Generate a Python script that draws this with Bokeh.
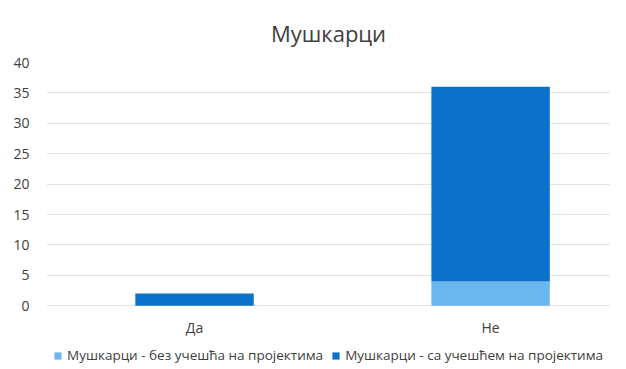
from bokeh.plotting import figure
from bokeh.models import ColumnDataSource, Range1d, FixedTicker, Legend, LegendItem
from bokeh.embed import file_html
from bokeh.resources import INLINE

categories = ["Да", "Не"]
series_names = ["Мушкарци - без учешћа на пројектима", "Мушкарци - са учешћем на пројектима"]
without_projects = [0, 4]
with_projects = [2, 32]
colors = ["#6AB7EF", "#0A72CA"]
y_ticks = [0, 5, 10, 15, 20, 25, 30, 35, 40]

FONT = "Open Sans"

xs = [i + 0.5 for i in range(len(categories))]
bottom2 = list(without_projects)
top2 = [a + b for a, b in zip(without_projects, with_projects)]

src = ColumnDataSource(dict(x=xs, b1=[0] * len(xs), t1=without_projects, b2=bottom2, t2=top2))

# frame extends below y=0 so that the category labels and the legend sit inside it
p = figure(frame_width=564, frame_height=304, output_backend="svg", toolbar_location=None,
           x_range=Range1d(0, 1.905), y_range=Range1d(-10, 40),
           min_border_left=46, min_border_right=0, min_border_top=62, min_border_bottom=0)

r1 = p.vbar(x="x", bottom="b1", top="t1", width=0.4, source=src,
            fill_color=colors[0], line_color=None)
r2 = p.vbar(x="x", bottom="b2", top="t2", width=0.4, source=src,
            fill_color=colors[1], line_color=None)

p.title.text = "Мушкарци"
p.title.align = "center"
p.title.text_font = FONT
p.title.text_font_size = "22px"
p.title.text_font_style = "normal"
p.title.text_color = "#404040"
p.title.standoff = 29

p.outline_line_color = None
p.background_fill_color = "white"
p.border_fill_color = "white"

for ax in (p.xaxis, p.yaxis):
    ax.axis_label = None
    ax.axis_label_standoff = 0
    ax.axis_line_color = None
    ax.major_tick_line_color = None
    ax.minor_tick_line_color = None
    ax.major_tick_out = 0
    ax.major_tick_in = 0
    ax.minor_tick_out = 0
    ax.minor_tick_in = 0
    ax.major_label_text_font = FONT
    ax.major_label_text_font_size = "14px"
    ax.major_label_text_color = "#404040"

p.yaxis.ticker = FixedTicker(ticks=y_ticks)
p.yaxis.major_label_standoff = 17

p.xaxis.ticker = FixedTicker(ticks=xs)
p.xaxis.major_label_overrides = {x: c for x, c in zip(xs, categories)}
p.xaxis.major_label_standoff = 12
p.xaxis.fixed_location = 0

p.xgrid.grid_line_color = None
p.ygrid.grid_line_color = "#E3E3E3"
p.ygrid.ticker = FixedTicker(ticks=y_ticks)

legend = Legend(items=[LegendItem(label=series_names[0], renderers=[r1]),
                       LegendItem(label=series_names[1], renderers=[r2])],
                orientation="horizontal", location=(7, 2))
legend.label_text_font = FONT
legend.label_text_font_size = "13.5px"
legend.label_text_color = "#404040"
legend.glyph_width = 9
legend.glyph_height = 9
legend.label_height = 18
legend.label_standoff = 5
legend.spacing = 8
legend.padding = 0
legend.margin = 0
legend.border_line_color = None
legend.background_fill_alpha = 0
p.add_layout(legend, "center")

open("out.html", "w").write(file_html(p, INLINE))
